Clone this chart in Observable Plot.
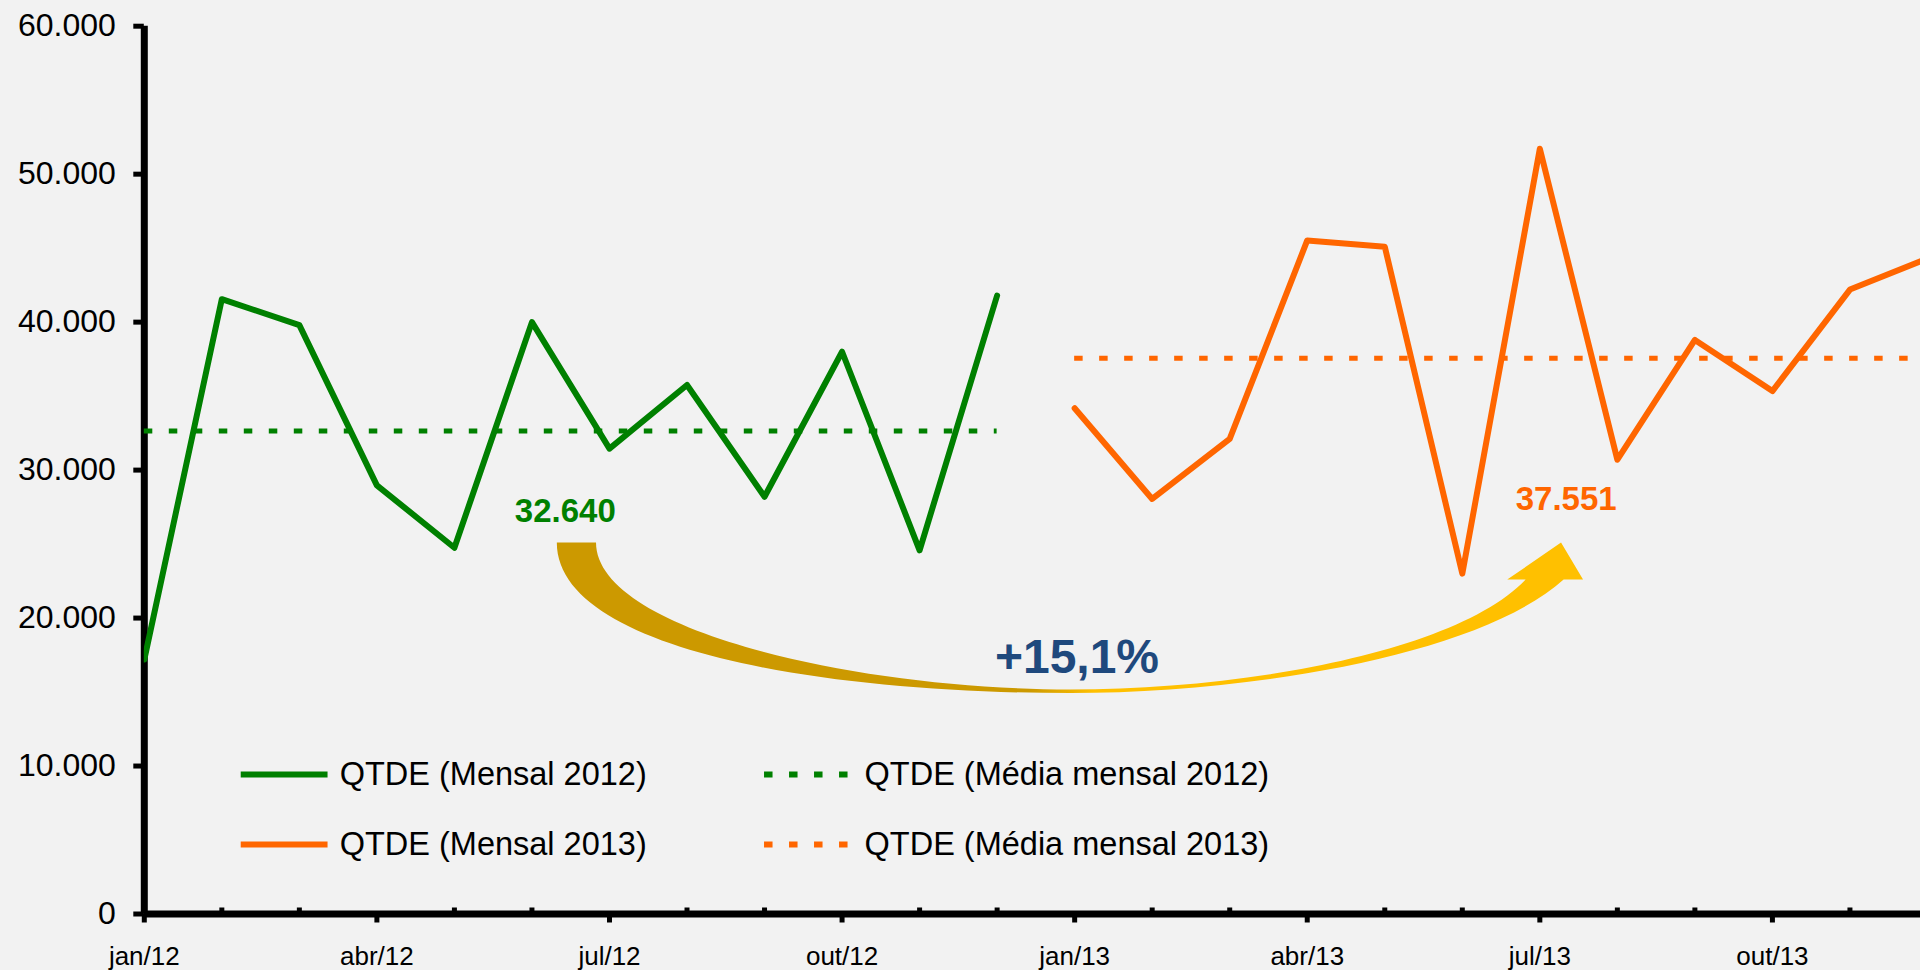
<!DOCTYPE html>
<html><head><meta charset="utf-8">
<script src="https://cdn.jsdelivr.net/npm/d3@7"></script>
<script src="https://cdn.jsdelivr.net/npm/@observablehq/plot@0.6"></script>
<style>
html,body{margin:0;padding:0;background:#F2F2F2;overflow:hidden}
#chart svg{display:block}
</style></head><body><div id="chart"></div>
<script>
// ---- data ----
const months = ["jan/12","fev/12","mar/12","abr/12","mai/12","jun/12","jul/12","ago/12","set/12","out/12","nov/12","dez/12",
                "jan/13","fev/13","mar/13","abr/13","mai/13","jun/13","jul/13","ago/13","set/13","out/13","nov/13","dez/13"];
const qtde2012 = [17200, 41550, 39800, 28970, 24750, 40000, 31450, 35750, 28200, 38000, 24580, 41800];
const qtde2013 = [34180, 28050, 32110, 45520, 45100, 23000, 51720, 30700, 38800, 35340, 42200, 44300];
const media2012 = 32640;
const media2013 = 37551;
const variacao = "+15,1%";
const yTicks = [0, 10000, 20000, 30000, 40000, 50000, 60000];
const xLabelIdx = [0, 3, 6, 9, 12, 15, 18, 21];
const legendLabels = ["QTDE (Mensal 2012)", "QTDE (Mensal 2013)", "QTDE (Média mensal 2012)", "QTDE (Média mensal 2013)"];

// ---- styling / layout ----
const GREEN = "#008000", ORANGE = "#FF6600", NAVY = "#1F497D", GOLD = "#CC9900", YELLOW = "#FFC000";
const DASH = "8.5,16.5";
const fmt = d3.formatLocale({decimal: ",", thousands: ".", grouping: [3], currency: ["R$", ""]}).format(",d");

const s2012 = qtde2012.map((v, i) => ({i, v}));
const s2013 = qtde2013.map((v, i) => ({i: i + 12, v}));
const minorIdx = d3.range(0, 24).filter(i => i % 3 !== 0);

// annotation anchors in data units (month index, value)
const arrow = {tailX: 5.58, tailY: 25070, bottomX: 11.95, bottomY: 14900, headX: 18.28, headY: 25070};
const labelPos = {m12: [5.43, 27180], m13: [18.34, 28010], varia: [12.03, 17300]};
const legendRows = [9430, 4700];
const legendCols = {solid: [1.25, 2.37, 2.52], dash: [8.0, 9.09, 9.29]};

function arrowMark(index, scales) {
  const X = scales.x, Y = scales.y;
  const tx = X(arrow.tailX), ty = Y(arrow.tailY);
  const bx = X(arrow.bottomX), by = Y(arrow.bottomY);
  const hx = X(arrow.headX), hy = Y(arrow.headY);
  const w = 19.6, hb = hy + 37, bi = by - 3.6;
  const p = d3.path();
  p.moveTo(tx - w, ty);
  p.bezierCurveTo(tx - w, ty + 0.7 * (by - ty), bx - 0.5 * (bx - (tx - w)), by, bx, by);
  p.bezierCurveTo(bx + 179, by, hx - 82, hb + 76, hx + 2.6, hb);
  p.lineTo(hx + 22, hb);
  p.lineTo(hx, hy);
  p.lineTo(hx - 53.8, hb);
  p.lineTo(hx - 35.4, hb);
  p.bezierCurveTo(hx - 102.4, hb + 71, bx + 179, bi, bx, bi);
  p.bezierCurveTo(bx - 0.45 * (bx - (tx + w)), bi, tx + w, ty + 0.6 * (bi - ty), tx + w, ty);
  p.closePath();
  const g = d3.create("svg:g");
  const grad = g.append("defs").append("linearGradient")
    .attr("id", "arrowGrad").attr("gradientUnits", "userSpaceOnUse")
    .attr("x1", bx - 41).attr("x2", bx + 24).attr("y1", 0).attr("y2", 0);
  grad.append("stop").attr("offset", 0).attr("stop-color", GOLD);
  grad.append("stop").attr("offset", 1).attr("stop-color", YELLOW);
  g.append("path").attr("d", p.toString()).attr("fill", "url(#arrowGrad)");
  return g.node();
}

const W = 1920, H = 970;
const chart = Plot.plot({
  width: W, height: H,
  marginLeft: 143.8, marginRight: 0, marginTop: 25.7, marginBottom: H - 913.5,
  style: {background: "#F2F2F2", fontFamily: "'Liberation Sans', Arial, sans-serif", color: "black", overflow: "visible"},
  x: {domain: [0, 22.91], axis: null},
  y: {domain: [0, 60000], axis: null},
  marks: [
    // axes
    Plot.axisY(yTicks, {tickSize: 10.5, tickPadding: 18, fontSize: 32, strokeWidth: 5, stroke: "black", fill: "black", tickFormat: fmt, label: null}),
    Plot.axisX(xLabelIdx, {tickSize: 9, tickPadding: 24, fontSize: 26, strokeWidth: 5, stroke: "black", fill: "black", tickFormat: i => months[i], label: null}),
    Plot.ruleX(minorIdx, {x: d => d, y1: d => 0, y2: d => 0, insetTop: -6, stroke: "black", strokeWidth: 5}),
    Plot.ruleX([0], {y1: 0, y2: 60000, stroke: "black", strokeWidth: 7}),
    Plot.ruleY([0], {stroke: "black", strokeWidth: 7}),
    // mean lines
    Plot.ruleY([media2012], {y: d => d, x1: 0, x2: 11, stroke: GREEN, strokeWidth: 5, strokeDasharray: DASH}),
    Plot.ruleY([media2013], {y: d => d, x1: 12, x2: 23, stroke: ORANGE, strokeWidth: 5, strokeDasharray: DASH, clip: true}),
    // monthly lines
    Plot.line(s2012, {x: "i", y: "v", stroke: GREEN, strokeWidth: 6, strokeLinejoin: "round", clip: true}),
    Plot.line(s2013, {x: "i", y: "v", stroke: ORANGE, strokeWidth: 6, strokeLinejoin: "round", clip: true}),
    // arrow annotation
    arrowMark,
    Plot.text([fmt(media2012)], {x: labelPos.m12[0], y: labelPos.m12[1], text: d => d, fill: GREEN, fontSize: 33, fontWeight: "bold"}),
    Plot.text([fmt(media2013)], {x: labelPos.m13[0], y: labelPos.m13[1], text: d => d, fill: ORANGE, fontSize: 33, fontWeight: "bold"}),
    Plot.text([variacao], {x: labelPos.varia[0], y: labelPos.varia[1], text: d => d, fill: NAVY, fontSize: 48, fontWeight: "bold"}),
    // legend
    Plot.ruleY([legendRows[0]], {y: d => d, x1: legendCols.solid[0], x2: legendCols.solid[1], stroke: GREEN, strokeWidth: 6}),
    Plot.ruleY([legendRows[1]], {y: d => d, x1: legendCols.solid[0], x2: legendCols.solid[1], stroke: ORANGE, strokeWidth: 6}),
    Plot.ruleY([legendRows[0]], {y: d => d, x1: legendCols.dash[0], x2: legendCols.dash[1], stroke: GREEN, strokeWidth: 6, strokeDasharray: DASH}),
    Plot.ruleY([legendRows[1]], {y: d => d, x1: legendCols.dash[0], x2: legendCols.dash[1], stroke: ORANGE, strokeWidth: 6, strokeDasharray: DASH}),
    Plot.text([0, 1], {x: legendCols.solid[2], y: i => legendRows[i], text: i => legendLabels[i], textAnchor: "start", fontSize: 32.5, fill: "black"}),
    Plot.text([2, 3], {x: legendCols.dash[2], y: i => legendRows[i - 2], text: i => legendLabels[i], textAnchor: "start", fontSize: 32.5, fill: "black"})
  ]
});
document.getElementById("chart").appendChild(chart);
</script>
</body></html>
